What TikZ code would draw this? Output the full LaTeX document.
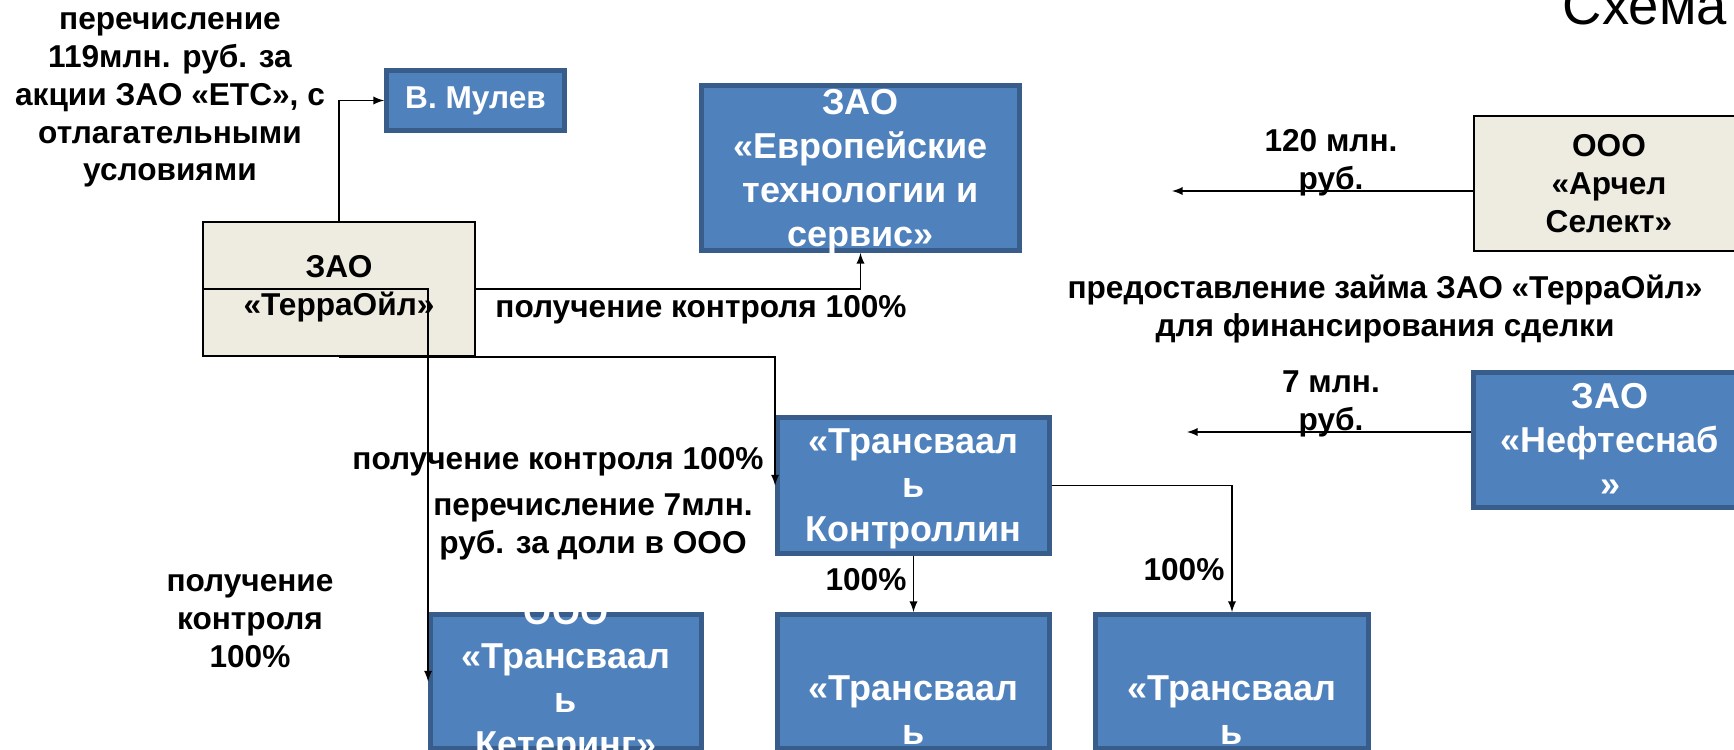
\documentclass[tikz,border=0pt]{standalone}
\usepackage{fontspec}
\setmainfont{Liberation Sans}
\usetikzlibrary{arrows}
\definecolor{boxblue}{HTML}{4F81BD}
\definecolor{boxedge}{HTML}{385D8A}
\definecolor{boxbeige}{HTML}{EEECE1}
\newcommand\lbltxt{\fontsize{18}{21.5}\selectfont\bfseries}
\newcommand\bigtxt{\fontsize{20.5}{25}\selectfont\bfseries}
\tikzset{
  bluebox/.style={draw=boxedge,line width=2.8pt,fill=boxblue,inner sep=0pt},
  beigebox/.style={draw=black,line width=1.1pt,fill=boxbeige,inner sep=0pt},
  boxtxt/.style={text=white,font=\bigtxt,align=center},
  darktxt/.style={text=black,font=\lbltxt,align=center},
  lbl/.style={font=\lbltxt,align=center},
  link/.style={line width=1.1pt,->,>=latex}
}
\begin{document}
\begin{tikzpicture}[x=0.02cm,y=-0.02cm]
\useasboundingbox (0,0) rectangle (1734,750);

\node[font=\fontsize{31}{33}\selectfont,anchor=base east] (title) at (1733,25) {Схема};

\node[bluebox,minimum width=3.56cm,minimum height=1.2cm,
  label={[boxtxt,font=\lbltxt]center:В. Мулев}] (mulev) at (475.5,100.5) {};
\node[bluebox,minimum width=6.36cm,minimum height=3.3cm,
  label={[boxtxt,yshift=-2pt]center:{ЗАО\\«Европейские\\технологии и\\сервис»}}] (euro) at (860.5,168) {};
\node[beigebox,minimum width=5.44cm,minimum height=2.68cm,
  label={[darktxt]center:{ЗАО\\«ТерраОйл»}}] (terra) at (339,289) {};
\node[beigebox,minimum width=5.4cm,minimum height=2.7cm,
  label={[darktxt]center:{ООО\\«Арчел\\Селект»}}] (archel) at (1609,183.5) {};
\node[bluebox,minimum width=5.46cm,minimum height=2.7cm,
  label={[boxtxt]center:{ЗАО\\«Нефтеснаб\\»}}] (neft) at (1610,440) {};
\node[bluebox,minimum width=5.44cm,minimum height=2.72cm,
  label={[boxtxt,yshift=-2pt]center:{«Трансваал\\ь\\Контроллин}}] (trkon) at (913.5,485.5) {};
\node[bluebox,minimum width=5.42cm,minimum height=2.68cm,
  label={[boxtxt]center:{ООО\\«Трансваал\\ь\\Кетеринг»}}] (trkat) at (566,681.5) {};
\node[bluebox,minimum width=5.44cm,minimum height=2.68cm] (trmid) at (913.5,681.5) {};
\node[bluebox,minimum width=5.46cm,minimum height=2.68cm] (trright) at (1232,681.5) {};
\node[boxtxt] (trmidtxt) at (913.5,710) {«Трансваал\\ь};
\node[boxtxt] (trrighttxt) at (1232,710) {«Трансваал\\ь};

\node[lbl] (paytxt) at (170,100) {перечисление\\119млн. руб. за\\акции ЗАО «ЕТС», с\\отлагательными\\условиями};
\node[lbl] (ctrla) at (701,310) {получение контроля 100\%};
\node[lbl] (ctrlb) at (558,462) {получение контроля 100\%};
\node[lbl] (paysev) at (593,527) {перечисление 7млн.\\руб. за доли в ООО};
\node[lbl] (ctrlc) at (250,621) {получение\\контроля\\100\%};
\node[lbl] (suma) at (1331,163) {120 млн.\\руб.};
\node[lbl] (loan) at (1385,309) {предоставление займа ЗАО «ТерраОйл»\\для финансирования сделки};
\node[lbl] (sumb) at (1331,404) {7 млн.\\руб.};
\node[lbl] (pcta) at (866,580) {100\%};
\node[lbl] (pctb) at (1184,570) {100\%};

\coordinate (archend) at (1172,191);
\coordinate (neftend) at (1187,432);

\draw[link] (terra.north) |- (mulev.west);
\draw[link] (terra.east) -| (euro.south);
\draw[link] (terra.south) -| (trkon.west);
\draw[link] (terra.west) -| (trkat.west);
\draw[link] (archel.west |- archend) -- (archend);
\draw[link] (neft.west |- neftend) -- (neftend);
\draw[link] (trkon.south) -- (trmid.north);
\draw[link] (trkon.east) -| (trright.north);
\end{tikzpicture}
\end{document}
